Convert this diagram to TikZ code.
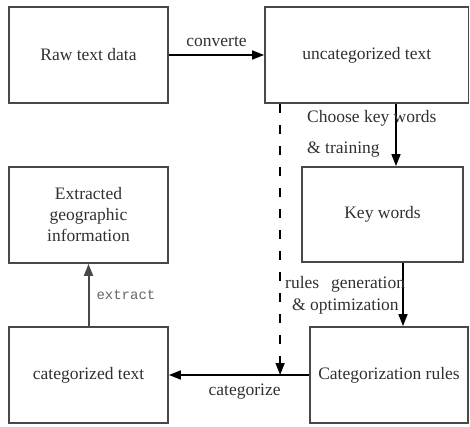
\documentclass[tikz,border=0pt]{standalone}
\usepackage{fontspec}
\setmainfont{Liberation Serif}
\setmonofont{Liberation Mono}
\usetikzlibrary{arrows.meta}
\definecolor{boxgray}{HTML}{484848}
\definecolor{textgray}{HTML}{303030}
\tikzset{
  blk/.style={draw=boxgray,line width=1.8pt,minimum width=159pt,minimum height=96pt,
    inner sep=2pt,align=center,text=textgray},
  lbl/.style={text=textgray,inner sep=0pt},
  flow/.style={-{Triangle[length=12pt,width=9pt]},line width=1.5pt}
}
\begin{document}
\begin{tikzpicture}[x=1pt,y=-1pt,font=\fontsize{17.5}{21}\selectfont]
    \useasboundingbox (0,0) rectangle (470,427);
    \node[blk] (Raw) at (88.5,55) {Raw text data};
    \node[blk,minimum width=203.5pt] (Unc) at (366.75,55) {uncategorized text};
    \node[blk] (Geo) at (88.5,215) {Extracted\\geographic\\information};
    \node[blk,minimum width=161pt,minimum height=95pt] (KW) at (382.5,214.5) {Key words};
    \node[blk] (Cat) at (88.5,375) {categorized text};
    \node[blk,minimum width=158pt] (Rules) at (389,375) {Categorization rules};
    \draw[flow]
    (Raw) edge node[lbl,above=8pt] {converte} (Unc)
    (Rules) edge node[lbl,below=8pt,pos=0.46] {categorize} (Cat)
    (Cat) edge[draw=boxgray,line width=2pt] node[lbl,right=7pt,text=black!60,font=\ttfamily\fontsize{14}{16}\selectfont] {extract} (Geo);
    \draw[flow] ([xshift=29.25pt]Unc.south) -- ([xshift=29.25pt]Unc.south |- KW.north);
    \draw[flow] ([xshift=20.5pt]KW.south) -- ([xshift=20.5pt]KW.south |- Rules.north);
    \draw[flow,dash pattern=on 9pt off 12pt] ([xshift=16pt]Unc.south west) -- ([xshift=16pt]Unc.south west |- Rules.west);
    \node[lbl,anchor=west,align=left,font=\fontsize{17.5}{31}\selectfont] (choose) at (307,133.5)
      {Choose key words\\\& training};
    \node[lbl,anchor=west,align=left,font=\fontsize{17.5}{22}\selectfont] (gen) at (285,295)
      {rules\hspace{12pt}generation\\\hspace*{7pt}\& optimization};
\end{tikzpicture}
\end{document}
